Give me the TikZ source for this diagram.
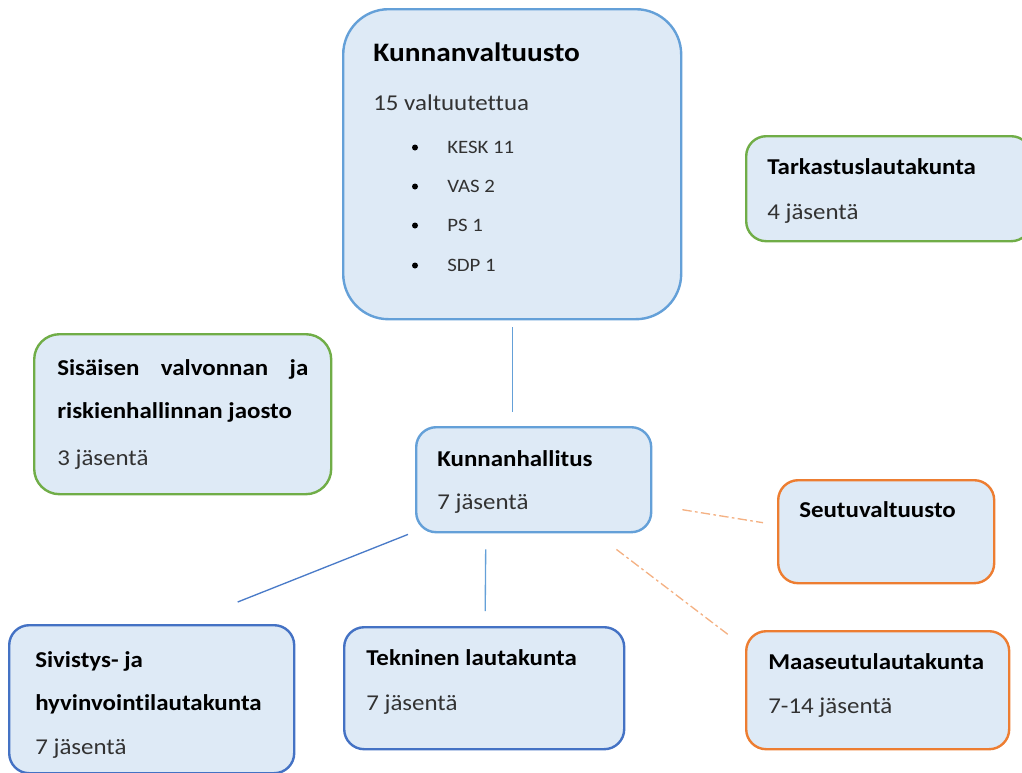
\documentclass[tikz,border=0pt]{standalone}
\usepackage{fontspec}
\setmainfont{Carlito}[FakeStretch=1.1, Ligatures=NoCommon]
\usetikzlibrary{calc}
\definecolor{fillb}{RGB}{222,234,246}
\definecolor{lblue}{RGB}{100,160,216}
\definecolor{dblue}{RGB}{68,114,196}
\definecolor{green}{RGB}{112,173,71}
\definecolor{orange}{RGB}{237,125,49}
\definecolor{lorange}{RGB}{244,177,131}
\definecolor{txt}{RGB}{50,50,50}
\tikzset{
  box/.style={draw, fill=fillb, line width=1.8pt, rounded corners=15pt, inner sep=0pt},
  ttl/.style={anchor=base west, inner sep=0pt, font=\bfseries\fontsize{17}{20}\selectfont, text=black},
  sub/.style={anchor=base west, inner sep=0pt, font=\fontsize{17}{20}\selectfont, text=txt},
  itm/.style={anchor=base west, inner sep=0pt, font=\fontsize{14.2}{17}\selectfont, text=txt},
  solidc/.style={line width=1pt},
  dashc/.style={line width=1pt, lorange, dash pattern=on 7pt off 2.5pt on 2pt off 2.5pt},
}
\begin{document}
\begin{tikzpicture}[x=0.75pt, y=-0.75pt]
\useasboundingbox (0,0) rectangle (1022,772);
% boxes
\node[box, draw=lblue, rounded corners=34pt, minimum width=338*0.75pt, minimum height=310*0.75pt, anchor=north west] (kv) at (342,8) {};
\node[box, draw=green, minimum width=285*0.75pt, minimum height=105*0.75pt, anchor=north west] (tark) at (745,135) {};
\node[box, draw=green, rounded corners=19pt, minimum width=297*0.75pt, minimum height=160*0.75pt, anchor=north west] (sis) at (33,333) {};
\node[box, draw=lblue, minimum width=235*0.75pt, minimum height=105*0.75pt, anchor=north west] (kh) at (415,426) {};
\node[box, draw=orange, minimum width=216*0.75pt, minimum height=103*0.75pt, anchor=north west] (seu) at (777,479) {};
\node[box, draw=orange, minimum width=263*0.75pt, minimum height=118*0.75pt, anchor=north west] (maa) at (745,630) {};
\node[box, draw=dblue, minimum width=285*0.75pt, minimum height=148*0.75pt, anchor=north west] (siv) at (8,624) {};
\node[box, draw=dblue, minimum width=280*0.75pt, minimum height=122*0.75pt, anchor=north west] (tek) at (343,626) {};
% texts
\node[ttl, font=\bfseries\fontsize{20}{24}\selectfont] (kvt) at (373,61) {Kunnanvaltuusto};
\node[sub] (kvs) at (373,110) {15 valtuutettua};
\foreach \n/\y/\t in {a/153/KESK 11, b/192/VAS 2, c/231/PS 1, d/271/SDP 1}{
  \node[itm] (kvi\n) at (447,\y) {\t};
  \fill[black] ($(kvi\n.base west)+(-32,-5.5)$) circle (3);
}
\node[ttl] (tarkt) at (767,174) {Tarkastuslautakunta};
\node[sub] (tarks) at (767,219) {4 jäsentä};
\node[ttl, text width=251*0.75pt, align=justify] (sist) at (57,375) {Sisäisen\hfill valvonnan\hfill ja};
\node[ttl] (sist2) at (57,418) {riskienhallinnan jaosto};
\node[sub] (siss) at (57,465) {3 jäsentä};
\node[ttl] (kht) at (437,466) {Kunnanhallitus};
\node[sub] (khs) at (437,509) {7 jäsentä};
\node[ttl] (seut) at (799,517) {Seutuvaltuusto};
\node[ttl] (maat) at (768,669) {Maaseutulautakunta};
\node[sub] (maas) at (768,713) {7-14 jäsentä};
\node[ttl] (sivt) at (35,667) {Sivistys- ja};
\node[ttl] (sivt2) at (35,710) {hyvinvointilautakunta};
\node[sub] (sivs) at (35,754) {7 jäsentä};
\node[ttl] (tekt) at (366,665) {Tekninen lautakunta};
\node[sub] (teks) at (366,710) {7 jäsentä};
% connectors
\coordinate (c1) at ($(kv.south)+(0,7)$);
\coordinate (c2) at ($(kv.south)+(0,92)$);
\draw[solidc, lblue] (c1) -- (c2);
\coordinate (c3) at ($(kh.south west)+(-7,1)$);
\coordinate (c4) at ($(siv.north)+(86,-22)$);
\draw[solidc, dblue!80!lblue] (c3) -- (c4);
\coordinate (c5) at ($(kh.south)+(-48,16)$);
\coordinate (c6) at ($(tek.north)+(1,-15)$);
\draw[solidc, lblue] (c5) -- (c6);
\coordinate (c7) at ($(kh.east)+(30,30)$);
\coordinate (c8) at ($(seu.west)+(-14,-9)$);
\draw[dashc] (c7) -- (c8);
\coordinate (c9) at ($(kh.south east)+(-36,16)$);
\coordinate (c10) at ($(maa.north west)+(-15,6)$);
\draw[dashc] (c9) -- (c10);
\end{tikzpicture}
\end{document}
